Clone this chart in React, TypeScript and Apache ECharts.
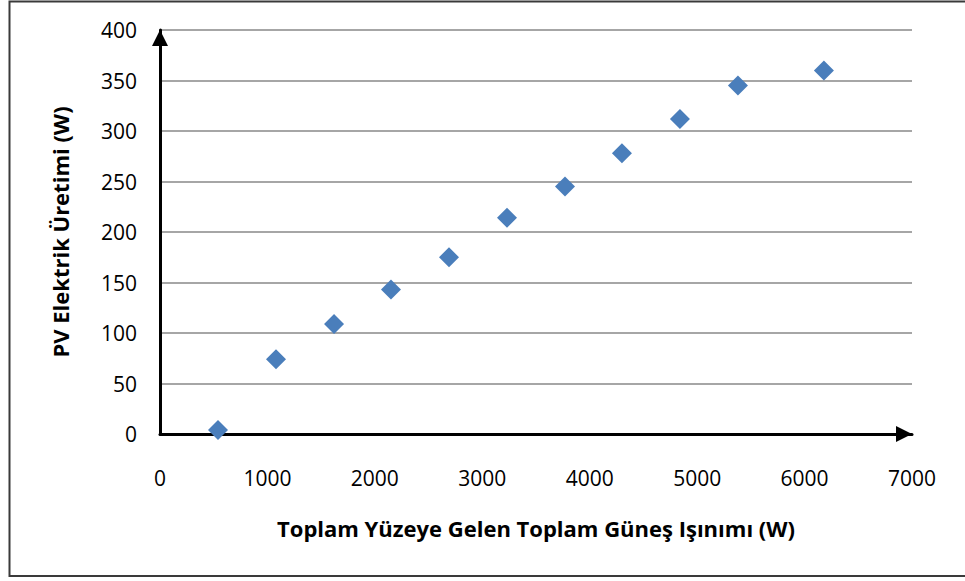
import React, { useEffect, useRef } from "react";
import * as echarts from "echarts";

// Total irradiance on the panel surface (W) and the PV electrical output (W)
const irradiance = [540, 1080, 1620, 2150, 2690, 3230, 3770, 4300, 4840, 5380, 6180];
const pvOutput = [4, 74, 109, 143, 175, 214, 245, 278, 312, 345, 360];

const xTitle = "Toplam Yüzeye Gelen Toplam Güneş Işınımı (W)";
const yTitle = "PV Elektrik Üretimi (W)";

const FONT = "'Open Sans', Lato, sans-serif";

export default function App() {
  const ref = useRef<HTMLDivElement>(null);

  useEffect(() => {
    if (!ref.current) return;
    const chart = echarts.init(ref.current, null, { renderer: "svg" });
    const points = irradiance.map((x, i) => [x, pvOutput[i]]);

    chart.setOption({
      animation: false,
      backgroundColor: "#ffffff",
      grid: { left: 160, right: 53, top: 30, bottom: 147, containLabel: false },
      graphic: [
        {
          // outer chart frame: left, top and bottom edges
          type: "polyline",
          silent: true,
          shape: { points: [[965, 1.5], [9.5, 1.5], [9.5, 576], [965, 576]] },
          style: { fill: "none", stroke: "#3a3a3a", lineWidth: 2 },
        },
      ],
      xAxis: {
        type: "value",
        min: 0,
        max: 7000,
        interval: 1000,
        name: xTitle,
        nameLocation: "middle",
        nameGap: 83,
        nameTextStyle: { fontFamily: FONT, fontSize: 22, fontWeight: "bold", color: "#000" },
        axisLine: {
          show: true,
          symbol: ["none", "triangle"],
          symbolSize: [16, 16],
          symbolOffset: [0, -8],
          lineStyle: { color: "#000", width: 3 },
        },
        axisTick: { show: false },
        splitLine: { show: false },
        axisLabel: {
          fontFamily: FONT,
          fontSize: 21,
          color: "#000",
          margin: 33,
          formatter: (v: number) => String(v),
        },
      },
      yAxis: {
        type: "value",
        min: 0,
        max: 400,
        interval: 50,
        name: yTitle,
        nameLocation: "middle",
        nameGap: 89,
        nameTextStyle: { fontFamily: FONT, fontSize: 22, fontWeight: "bold", color: "#000" },
        axisLine: {
          show: true,
          symbol: ["none", "triangle"],
          symbolSize: [16, 16],
          symbolOffset: [0, -8],
          lineStyle: { color: "#000", width: 3 },
        },
        axisTick: { show: false },
        splitLine: { show: true, lineStyle: { color: "#888888", width: 1.5 } },
        axisLabel: { fontFamily: FONT, fontSize: 21, color: "#000", margin: 23 },
      },
      series: [
        {
          type: "scatter",
          data: points,
          symbol: "diamond",
          symbolSize: 20,
          itemStyle: { color: "#4a7ebb", opacity: 1 },
          z: 5,
        },
      ],
    });

    return () => chart.dispose();
  }, []);

  return (
    <div
      ref={ref}
      style={{ position: "fixed", left: 0, top: 0, width: 965, height: 581, background: "#fff" }}
    />
  );
}
